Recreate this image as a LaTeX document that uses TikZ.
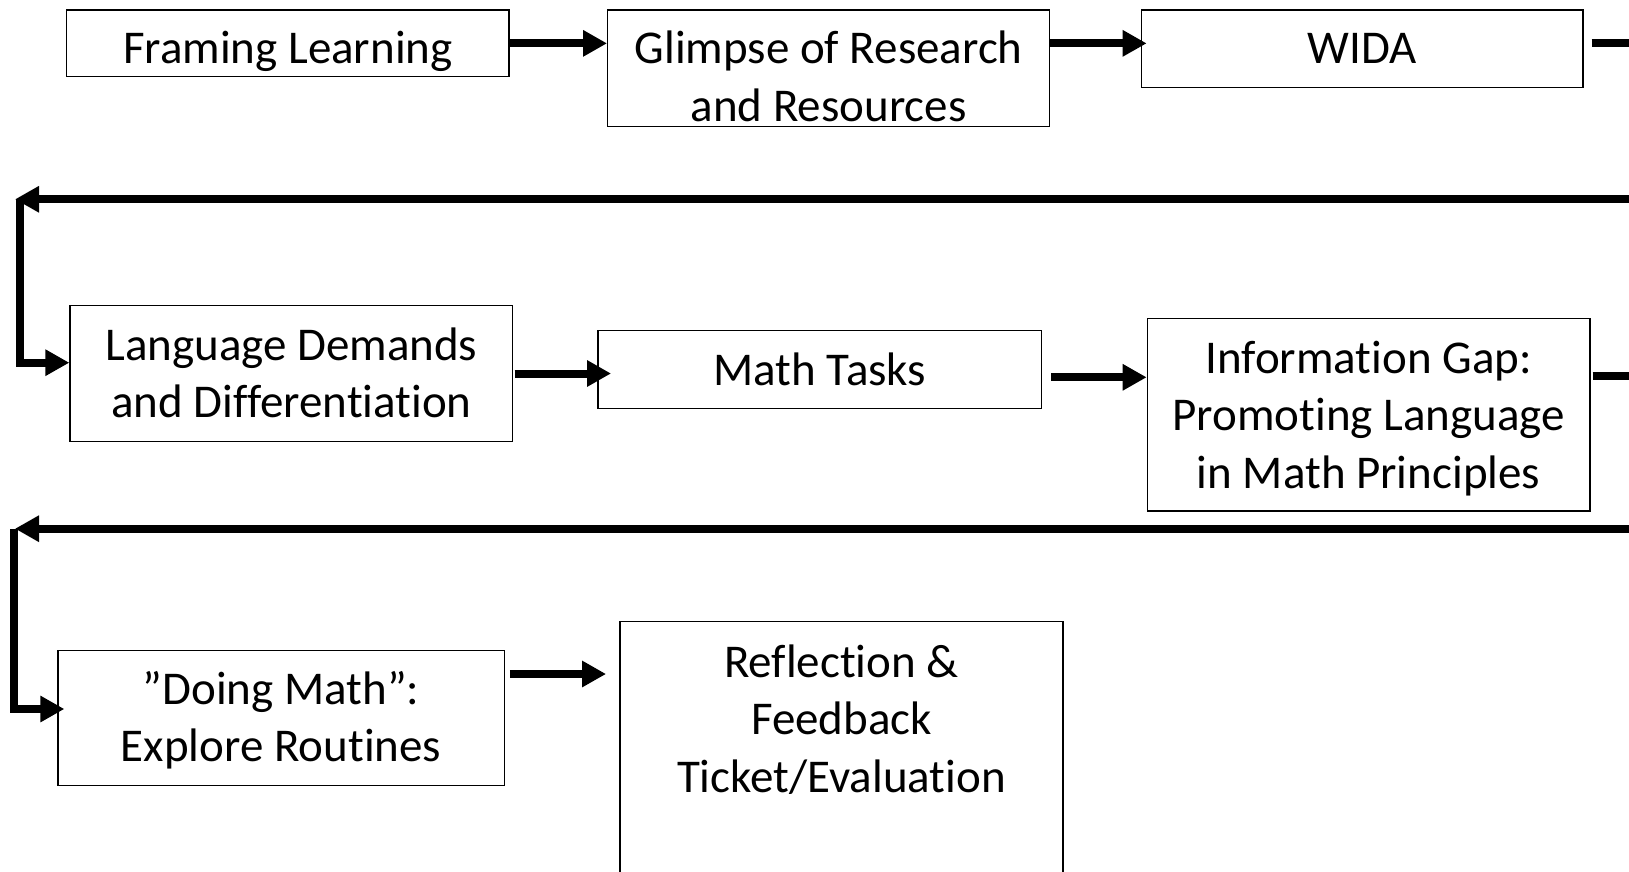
\documentclass[tikz,border=0pt]{standalone}
\usepackage{fontspec}
\setmainfont{Carlito}[Ligatures=NoCommon]
\usetikzlibrary{arrows.meta}
\begin{document}
\begin{tikzpicture}[x=1pt,y=-1pt,
  box/.style={draw=black, line width=1.3pt, inner sep=0pt, fill=white},
  txt/.style={inner sep=0pt, align=center, font=\fontsize{47}{57.5}\selectfont},
  conn/.style={line width=8pt, -{Triangle[length=24pt,width=25pt]}}]
\useasboundingbox (0,0) rectangle (1629,872);
\clip (0,0) rectangle (1629,872);
% boxes
\node[box, minimum width=442.3pt, minimum height=66.7pt] (fl) at (287.85,43.35) {};
\node[txt, anchor=base] (flt) at (287.85,63.3) {Framing Learning};
\node[box, minimum width=441.8pt, minimum height=116.7pt] (gl) at (828.6,68.35) {};
\node[txt] (glt) at (828.6,76.5) {Glimpse of Research\\and Resources};
\node[box, minimum width=441.3pt, minimum height=77.7pt] (wida) at (1362.35,48.85) {};
\node[txt, anchor=base] (widat) at (1362.35,63.3) {WIDA};
\node[box, minimum width=442.7pt, minimum height=136pt] (lang) at (291.35,373.5) {};
\node[txt] (langt) at (291.35,372.9) {Language Demands\\and Differentiation};
\node[box, minimum width=443.7pt, minimum height=77.8pt] (math) at (819.85,369.6) {};
\node[txt] (matht) at (819.85,369.8) {Math Tasks};
\node[box, minimum width=442.7pt, minimum height=192.7pt] (info) at (1368.65,414.65) {};
\node[txt] (infot) at (1368.65,418.5) {Information Gap:\\Promoting Language\\in Math Principles};
\node[box, minimum width=446.3pt, minimum height=134.7pt] (doing) at (281.15,718.05) {};
\node[txt] (doingt) at (281.15,720.4) {”Doing Math”:\\Explore Routines};
\node[box, minimum width=443pt, minimum height=288.3pt] (refl) at (841.5,765.85) {};
\node[txt] (reflt) at (841.5,719.3) {Reflection \&\\Feedback\\Ticket/Evaluation};
% connectors
\coordinate (t1) at (15,199.3);
\coordinate (v1) at (19.5,199.3);
\coordinate (t2) at (15,528.7);
\coordinate (v2) at (14,528.7);
\draw[conn] (fl.east) -- (fl.east -| gl.west);
\draw[conn] (gl.east |- fl.east) -- ([xshift=5.6pt]wida.west |- fl.east);
\draw[conn] ([xshift=8pt]wida.east |- fl.east) -- (1700,43.35) -- (1700,199.3) -- (t1);
\draw[conn] (v1) |- ([yshift=10.8pt]lang.west);
\draw[conn] ([xshift=1.3pt]lang.east) -- ([xshift=13.7pt]lang.east -| math.west);
\draw[conn] ([xshift=9pt,yshift=-7.7pt]math.east) -- ([yshift=-7.7pt]math.east -| info.west);
\draw[conn] ([xshift=2pt,yshift=38.95pt]info.east) -- (1700,375.7) -- (1700,528.7) -- (t2);
\draw[conn] (v2) |- ([xshift=7pt,yshift=9.05pt]doing.west);
\draw[conn] ([xshift=5pt,yshift=44.05pt]doing.east) -- ([xshift=-13.3pt,yshift=44.05pt]doing.east -| refl.west);
\end{tikzpicture}
\end{document}
